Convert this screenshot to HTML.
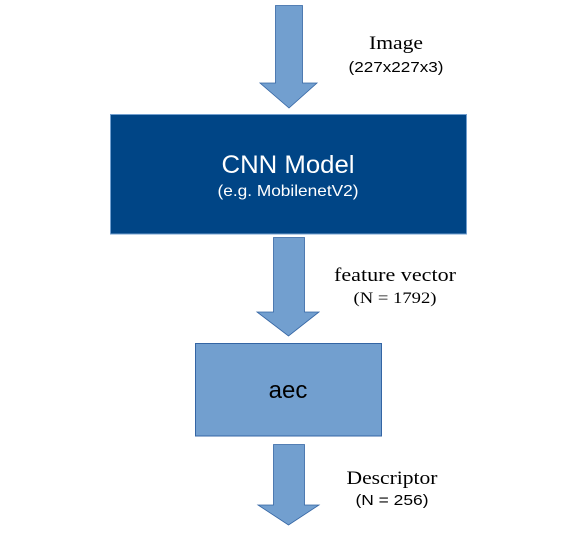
<!DOCTYPE html>
<html><head><meta charset="utf-8"><style>
html,body{margin:0;padding:0;background:#fff;width:575px;height:540px;overflow:hidden}
</style></head><body>
<svg width="575" height="540" viewBox="0 0 575 540" xmlns="http://www.w3.org/2000/svg">
<g fill="#729fcf" stroke="#3465a4" stroke-width="0.8">
<polygon points="275.5,5.5 302.5,5.5 302.5,83 317,83 289,108 260,83 275.5,83"/>
<polygon points="273.5,237.5 304.5,237.5 304.5,312 319,312 288.5,336 257,312 273.5,312"/>
<polygon points="273.5,444.5 304.5,444.5 304.5,505 319,505 288.5,525 258,505 273.5,505"/>
</g>
<rect x="110.5" y="114.5" width="356" height="119.5" fill="#004586" stroke="#729fcf" stroke-width="1"/>
<rect x="195.5" y="343.5" width="186" height="92.5" fill="#729fcf" stroke="#3465a4" stroke-width="1"/>
<g font-family="Liberation Sans, sans-serif" text-anchor="middle" lengthAdjust="spacingAndGlyphs">
<text x="288" y="173" font-size="25" fill="#fff" textLength="133" lengthAdjust="spacingAndGlyphs">CNN Model</text>
<text x="288" y="196" font-size="16" fill="#fff" textLength="141" lengthAdjust="spacingAndGlyphs">(e.g. MobilenetV2)</text>
<text x="288" y="398" font-size="24" fill="#000">aec</text>
<text x="396" y="72" font-size="15" fill="#000" textLength="95" lengthAdjust="spacingAndGlyphs">(227x227x3)</text>
<text x="392" y="505" font-size="15" fill="#000" textLength="73" lengthAdjust="spacingAndGlyphs">(N = 256)</text>
</g>
<g font-family="Liberation Serif, serif" text-anchor="middle" fill="#000">
<text x="396" y="49" font-size="19" textLength="54" lengthAdjust="spacingAndGlyphs">Image</text>
<text x="395" y="281" font-size="19" textLength="122" lengthAdjust="spacingAndGlyphs">feature vector</text>
<text x="395" y="303" font-size="16" textLength="83" lengthAdjust="spacingAndGlyphs">(N = 1792)</text>
<text x="392" y="484" font-size="19" textLength="91" lengthAdjust="spacingAndGlyphs">Descriptor</text>
</g>
</svg>
</body></html>
